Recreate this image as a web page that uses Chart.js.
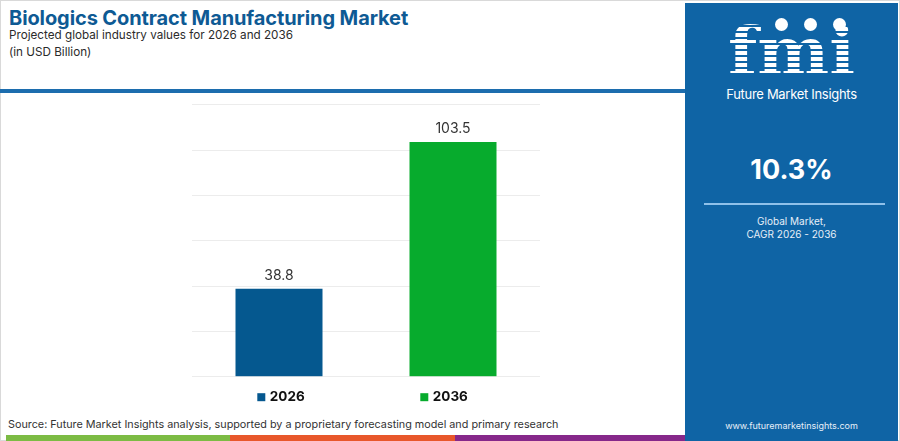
<!DOCTYPE html>
<html>
<head>
<meta charset="utf-8">
<script src="https://cdn.jsdelivr.net/npm/chart.js@4"></script>
<style>
  html, body { margin: 0; padding: 0; }
  body { width: 900px; height: 441px; position: relative; overflow: hidden; background: #fff; font-family: Inter, "Noto Sans", sans-serif; }
  .frame { position: absolute; left: 0; top: 0; width: 898px; height: 439px; border: 1px solid #d9d9d9; }
  .title { position: absolute; left: 9px; top: 6px; font-size: 20px; font-weight: 700; color: #0e5a94; letter-spacing: -0.1px; white-space: nowrap; }
  .sub { position: absolute; left: 9px; font-size: 11.7px; color: #2b2b2b; white-space: nowrap; }
  .rule { position: absolute; left: 0; top: 89px; width: 685px; height: 4px; background: #1c6dae; }
  .panel { position: absolute; left: 685px; top: 3px; width: 213px; height: 438px; background: #0f64a5; color: #fff; text-align: center; }
  .logo { position: absolute; left: 0; width: 100%; top: 12px; font-family: "DejaVu Serif", serif; font-weight: 700; font-size: 68px; line-height: 72px;
          background: repeating-linear-gradient(#fff 0 4px, #0f64a5 4px 6px); -webkit-background-clip: text; background-clip: text; color: transparent; }
  .dots { position: absolute; top: 12px; left: 90px; text-align: left; }
  .dots span { display: inline-block; width: 13px; height: 13px; border-radius: 50%; background: #fff; margin-right: 16px; }
  .brand { position: absolute; left: 0; width: 100%; top: 83px; font-size: 13px; letter-spacing: -0.3px; }
  .cagr { position: absolute; left: 0; width: 100%; top: 150px; font-size: 27px; font-weight: 700; }
  .line { position: absolute; left: 19px; top: 200px; width: 181px; height: 2px; background: #8fc1ea; }
  .note { position: absolute; left: 0; width: 100%; top: 212px; font-size: 10px; line-height: 12.5px; color: #e6eff8; }
  .web { position: absolute; left: 0; width: 100%; top: 417px; font-size: 9px; color: #e6eff8; }
  .source { position: absolute; left: 8px; top: 418px; font-size: 10.8px; color: #333; white-space: nowrap; }
  .strip { position: absolute; top: 435px; height: 6px; }
  #wrap { position: absolute; left: 170px; top: 95px; width: 380px; height: 320px; }
</style>
</head>
<body>
<div class="frame"></div>
<div class="title">Biologics Contract Manufacturing Market</div>
<div class="sub" style="top:28px">Projected global industry values for 2026 and 2036</div>
<div class="sub" style="top:45px">(in USD Billion)</div>
<div class="rule"></div>

<div class="panel">
  <div class="logo">fmi</div>
  <div class="dots"><span></span><span></span><span></span></div>
  <div class="brand">Future Market Insights</div>
  <div class="cagr">10.3%</div>
  <div class="line"></div>
  <div class="note">Global Market,<br>CAGR 2026 - 2036</div>
  <div class="web">www.futuremarketinsights.com</div>
</div>

<div class="source">Source: Future Market Insights analysis, supported by a proprietary forecasting model and primary research</div>
<div class="strip" style="left:6px;width:224px;background:#7cbb44"></div>
<div class="strip" style="left:230px;width:225px;background:#e8572b"></div>
<div class="strip" style="left:455px;width:230px;background:#86288a"></div>

<div id="wrap"><canvas id="myChart"></canvas></div>

<script>
const years = ['2026', '2036'];
const values = [38.8, 103.5];
const barColors = ['#05588f', '#07ab2d'];
const yMax = 120;
const yStep = 20;

// value labels above the bars
const valueLabels = {
  id: 'valueLabels',
  afterDatasetsDraw(chart) {
    const ctx = chart.ctx;
    const meta = chart.getDatasetMeta(0);
    ctx.save();
    ctx.font = '14px Inter, "Noto Sans", sans-serif';
    ctx.fillStyle = '#333';
    ctx.textAlign = 'center';
    ctx.textBaseline = 'middle';
    meta.data.forEach((bar, i) => {
      ctx.fillText(values[i].toFixed(1), bar.x, bar.y - 13);
    });
    ctx.restore();
  }
};

// legend under the plot, square + year
const yearLegend = {
  id: 'yearLegend',
  afterDraw(chart) {
    const ctx = chart.ctx;
    const area = chart.chartArea;
    const y = area.bottom + 20.5;
    ctx.save();
    ctx.font = 'bold 13.5px Inter, "Noto Sans", sans-serif';
    ctx.textBaseline = 'middle';
    years.forEach((yr, i) => {
      const x = area.left + 65.3 + i * 163;
      ctx.fillStyle = barColors[i];
      ctx.fillRect(x, y - 4, 8, 8);
      ctx.fillStyle = '#111';
      ctx.fillText(yr, x + 12.5, y);
    });
    ctx.restore();
  }
};

const ctx = document.getElementById('myChart');
const config = {
  type: 'bar',
  data: {
    labels: years,
    datasets: [{
      data: values,
      backgroundColor: barColors,
      categoryPercentage: 1,
      barPercentage: 0.5
    }]
  },
  options: {
    responsive: true,
    maintainAspectRatio: false,
    animation: false,
    layout: { padding: { left: 22, right: 10, top: 9.7, bottom: 38.3 } },
    plugins: { legend: { display: false }, tooltip: { enabled: false } },
    scales: {
      x: { display: false },
      y: {
        min: 0,
        max: yMax,
        ticks: { display: false, stepSize: yStep },
        border: { display: false },
        grid: { color: '#ececec', drawTicks: false }
      }
    }
  },
  plugins: [valueLabels, yearLegend]
};

new Chart(ctx, config);
</script>
</body>
</html>
